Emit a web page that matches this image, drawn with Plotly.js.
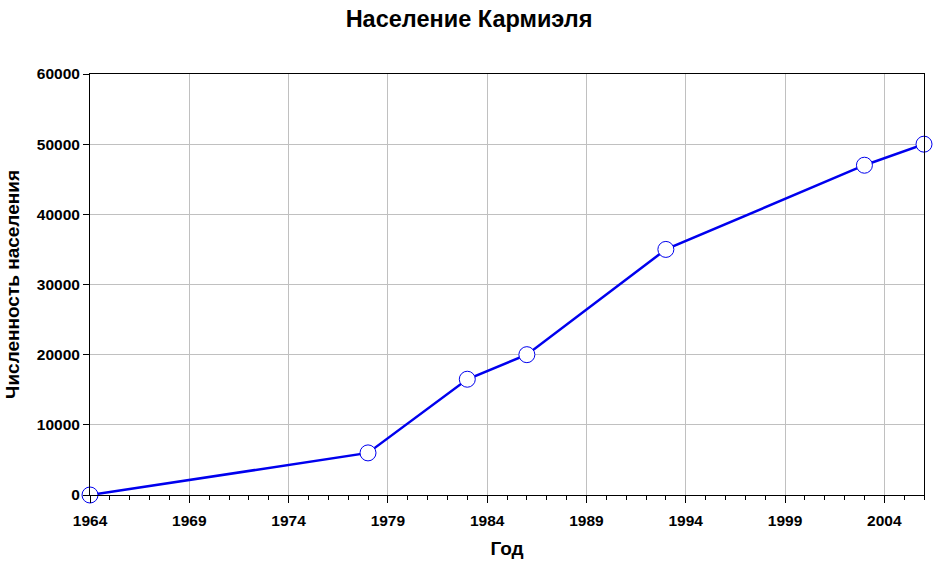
<!DOCTYPE html>
<html><head><meta charset="utf-8">
<script src="https://cdn.plot.ly/plotly-3.0.1.min.js"></script>
<style>html,body{margin:0;padding:0;background:#fff;}#c{width:938px;height:563px;}</style>
</head><body><div id="c"></div>
<script>
var years = [1964, 1978, 1983, 1986, 1993, 2003, 2006];
var population = [0, 6000, 16500, 20000, 35000, 47000, 50000];
var xTickVals = [1964, 1969, 1974, 1979, 1984, 1989, 1994, 1999, 2004];
var yTickVals = [0, 10000, 20000, 30000, 40000, 50000, 60000];

var font = 'Liberation Sans, Arial, sans-serif';
Plotly.newPlot('c', [{
  x: years, y: population, type: 'scatter', mode: 'lines+markers',
  line: {color: '#0000ee', width: 2.5},
  marker: {size: 16, color: '#ffffff', line: {color: '#0000ee', width: 1}},
  cliponaxis: false, hoverinfo: 'x+y'
}], {
  width: 938, height: 563,
  margin: {l: 90, r: 14, t: 74, b: 68},
  paper_bgcolor: '#fff', plot_bgcolor: '#fff',
  showlegend: false,
  title: {text: '<b>Население Кармиэля</b>', x: 0.5, xanchor: 'center', y: 0.966, yanchor: 'middle',
          font: {family: font, size: 23.5, color: '#000'}},
  xaxis: {
    range: [1964, 2006], tickvals: xTickVals, ticktext: xTickVals.map(function(v){return '<b>'+v+'</b>';}),
    showgrid: true, gridcolor: '#c0c0c0', gridwidth: 1,
    ticks: 'outside', ticklen: 7, tickcolor: '#000', tickwidth: 1,
    minor: {dtick: 1, tick0: 1964, ticks: 'outside', ticklen: 4, tickcolor: '#000', showgrid: false},
    showline: true, linecolor: '#000', linewidth: 1, mirror: true, zeroline: false,
    ticklabelstandoff: 4,
    tickfont: {family: font, size: 15.5, color: '#000'},
    title: {text: '<b>Год</b>', font: {family: font, size: 19, color: '#000'}, standoff: 14}
  },
  yaxis: {
    range: [0, 60000], tickvals: yTickVals, ticktext: yTickVals.map(function(v){return '<b>'+v+'</b>';}),
    showgrid: true, gridcolor: '#c0c0c0', gridwidth: 1,
    ticks: 'outside', ticklen: 6, tickcolor: '#000', tickwidth: 1,
    showline: true, linecolor: '#000', linewidth: 1, mirror: true, zeroline: false,
    tickfont: {family: font, size: 15.5, color: '#000'},
    title: {text: '<b>Численность населения</b>', font: {family: font, size: 19, color: '#000'}, standoff: 12}
  }
}, {displayModeBar: false});
</script></body></html>
